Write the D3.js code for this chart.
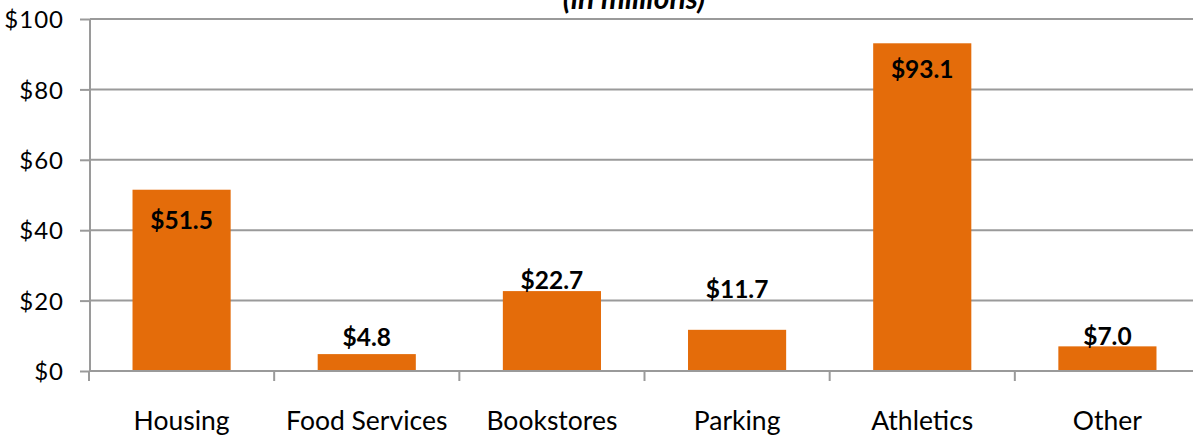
<!DOCTYPE html>
<html><head><meta charset="utf-8">
<script src="https://cdn.jsdelivr.net/npm/d3@7"></script>
<style>body{margin:0;background:#fff}svg{display:block}</style>
</head><body><svg id="c" width="1193" height="435"></svg>
<script>
const categories = ["Housing","Food Services","Bookstores","Parking","Athletics","Other"];
const values = [51.5, 4.8, 22.7, 11.7, 93.1, 7.0];
const yTicks = [0,20,40,60,80,100];
const title = "(in millions)";

// label offsets (px, relative to bar top; positive = down)
const labelOffsets = [39, -8, -2, -32, 35, -1];

const svg = d3.select("#c");
const font = "Lato, 'Open Sans', sans-serif";
const x = d3.scaleBand().domain(categories).range([89, 1200]).paddingInner(0.47).paddingOuter(0.235);
const y = d3.scaleLinear().domain([0,100]).range([371, 19]);

// gridlines
svg.append("g").selectAll("line").data(yTicks.slice(1)).join("line")
  .attr("x1", 90).attr("x2", 1193).attr("y1", d=>y(d)).attr("y2", d=>y(d))
  .attr("stroke", "#9a9a9a").attr("stroke-width", 2);

// y axis
const yAxis = d3.axisLeft(y).tickValues(yTicks).tickSize(10).tickPadding(16).tickFormat(d=>"$"+d);
const ga = svg.append("g").attr("transform","translate(90,0)").call(yAxis);
ga.select(".domain").attr("stroke","#9a9a9a").attr("stroke-width",2).attr("d","M0,19V371");
ga.selectAll(".tick line").attr("stroke","#9a9a9a").attr("stroke-width",2);
ga.selectAll(".tick text").attr("font-family",font).attr("font-size",24).attr("fill","#000").attr("dy","0.36em")
  .attr("letter-spacing", 1);

// bars
svg.append("g").selectAll("rect").data(values).join("rect")
  .attr("x",(d,i)=>x(categories[i])).attr("width",x.bandwidth())
  .attr("y",d=>y(d)).attr("height",d=>y(0)-y(d))
  .attr("fill","#E46C0A");

// x axis baseline and ticks
svg.append("line").attr("x1",90).attr("x2",1193).attr("y1",371).attr("y2",371)
  .attr("stroke","#9a9a9a").attr("stroke-width",2);
const step = x.step();
const bounds = categories.map((c,i)=>x(c) - x.paddingInner()*step/2);
svg.append("g").selectAll("line").data(bounds).join("line")
  .attr("x1",d=>d).attr("x2",d=>d).attr("y1",371).attr("y2",381)
  .attr("stroke","#9a9a9a").attr("stroke-width",2);

// category labels
svg.append("g").selectAll("text").data(categories).join("text")
  .attr("x",d=>x(d)+x.bandwidth()/2).attr("y",430)
  .attr("text-anchor","middle").attr("font-family",font).attr("font-size",26.5).attr("fill","#000")
  .text(d=>d);

// value labels
svg.append("g").selectAll("text").data(values).join("text")
  .attr("x",(d,i)=>x(categories[i])+x.bandwidth()/2)
  .attr("y",(d,i)=>y(d)+labelOffsets[i])
  .attr("text-anchor","middle").attr("font-family",font).attr("font-size",24.5).attr("font-weight","bold").attr("fill","#000")
  .text(d=>"$"+d.toFixed(1));

// title (clipped at top, as in the original)
svg.append("text").attr("x",634).attr("y",9).attr("text-anchor","middle")
  .attr("font-family",font).attr("font-size",30).attr("font-weight","bold").attr("font-style","italic")
  .text(title);
</script></body></html>
